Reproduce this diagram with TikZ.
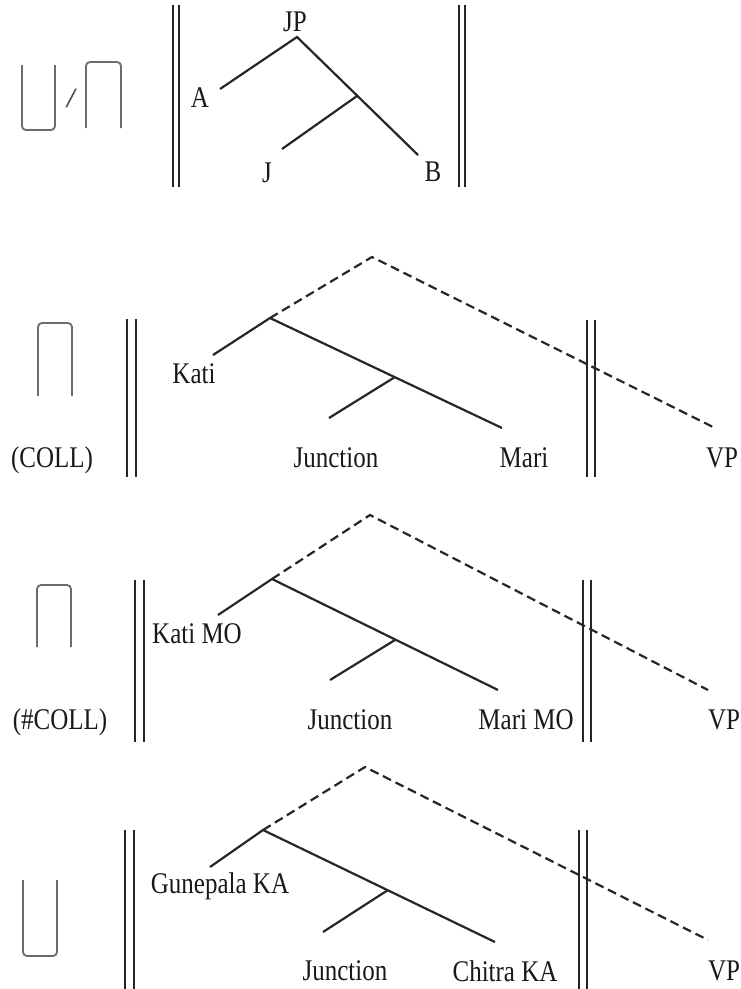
\documentclass[tikz,border=0pt]{standalone}
\usepackage{fontspec}
\setmainfont{Liberation Serif}
\usepackage{graphicx}
\newcommand{\tx}[1]{\scalebox{1}[1.2]{#1}}
\tikzset{
  lbl/.style={inner sep=0pt, font=\fontsize{25}{30}\selectfont, text=black!90},
  bar/.style={line width=1.6pt, black!85},
  sym/.style={line width=1.8pt, gray!85!black, rounded corners=4pt},
  branch/.style={line width=2.2pt, black!85},
  dsh/.style={branch, dash pattern=on 9pt off 5pt},
}
\begin{document}
\begin{tikzpicture}[x=1pt,y=-1pt]
\useasboundingbox (0,0) rectangle (741,989);
% ---------------- Panel 1 ----------------
\draw[sym] (22,65) -- (22,130) -- (55,130) -- (55,65);
\node[lbl, font=\fontsize{28}{32}\selectfont\bfseries\itshape, text=black!70] (slash) at (71,98) {/};
\draw[sym] (86,128) -- (86,62) -- (121,62) -- (121,128);
\draw[bar] (173,5) -- (173,187) (179,5) -- (179,187);
\draw[bar] (459,5) -- (459,187) (465,5) -- (465,187);
\node[lbl] (JP) at (295,22) {\tx{JP}};
\node[lbl] (A) at (200,98) {\tx{A}};
\node[lbl] (J) at (267,173) {\tx{J}};
\node[lbl] (B) at (433,172) {\tx{B}};
\coordinate (p1) at (297,37);
\coordinate (a1) at (220,89);
\coordinate (e1) at (418,155);
\coordinate (m1) at (357,96);
\coordinate (j1) at (282,149);
\draw[branch] (a1) -- (p1) -- (e1);
\draw[branch] (m1) -- (j1);
% ---------------- Panel 2 ----------------
\draw[sym] (38,396) -- (38,323) -- (72,323) -- (72,396);
\node[lbl] (coll) at (52,460) {\tx{(COLL)}};
\draw[bar] (127,319) -- (127,477) (136,319) -- (136,477);
\draw[bar] (587,320) -- (587,477) (595,320) -- (595,477);
\node[lbl] (kati2) at (194,374) {\tx{Kati}};
\node[lbl] (jun2) at (336,458) {\tx{Junction}};
\node[lbl] (mari2) at (524,458) {\tx{Mari}};
\node[lbl] (vp2) at (722,458) {\tx{VP}};
\coordinate (p2) at (372,257);
\coordinate (q2) at (270,318);
\coordinate (k2) at (213,355);
\coordinate (e2) at (502,428);
\coordinate (m2) at (395,377);
\coordinate (j2) at (329,418);
\coordinate (v2) at (715,428);
\draw[dsh] (q2) -- (p2) -- (v2);
\draw[branch] (k2) -- (q2) -- (e2);
\draw[branch] (m2) -- (j2);
% ---------------- Panel 3 ----------------
\draw[sym] (37,647) -- (37,585) -- (71,585) -- (71,647);
\node[lbl] (ncoll) at (60,722) {\tx{(\#COLL)}};
\draw[bar] (135,580) -- (135,742) (144,580) -- (144,742);
\draw[bar] (583,580) -- (583,742) (591,580) -- (591,742);
\node[lbl] (kati3) at (197,634) {\tx{Kati MO}};
\node[lbl] (jun3) at (350,720) {\tx{Junction}};
\node[lbl] (mari3) at (526,720) {\tx{Mari MO}};
\node[lbl] (vp3) at (724,720) {\tx{VP}};
\coordinate (p3) at (370,515);
\coordinate (q3) at (272,579);
\coordinate (k3) at (218,615);
\coordinate (e3) at (498,690);
\coordinate (m3) at (395,640);
\coordinate (j3) at (330,680);
\coordinate (v3) at (708,690);
\draw[dsh] (q3) -- (p3) -- (v3);
\draw[branch] (k3) -- (q3) -- (e3);
\draw[branch] (m3) -- (j3);
% ---------------- Panel 4 ----------------
\draw[sym] (23,880) -- (23,956) -- (57,956) -- (57,880);
\draw[bar] (125,830) -- (125,989) (134,830) -- (134,989);
\draw[bar] (579,830) -- (579,989) (587,830) -- (587,989);
\node[lbl] (gun4) at (220,886) {\tx{Gunepala KA}};
\node[lbl] (jun4) at (345,971) {\tx{Junction}};
\node[lbl] (chi4) at (505,971) {\tx{Chitra KA}};
\node[lbl] (vp4) at (724,971) {\tx{VP}};
\coordinate (p4) at (365,767);
\coordinate (q4) at (263,830);
\coordinate (k4) at (210,867);
\coordinate (e4) at (495,942);
\coordinate (m4) at (388,890);
\coordinate (j4) at (323,932);
\coordinate (v4) at (708,940);
\draw[dsh] (q4) -- (p4) -- (v4);
\draw[branch] (k4) -- (q4) -- (e4);
\draw[branch] (m4) -- (j4);
\end{tikzpicture}
\end{document}
